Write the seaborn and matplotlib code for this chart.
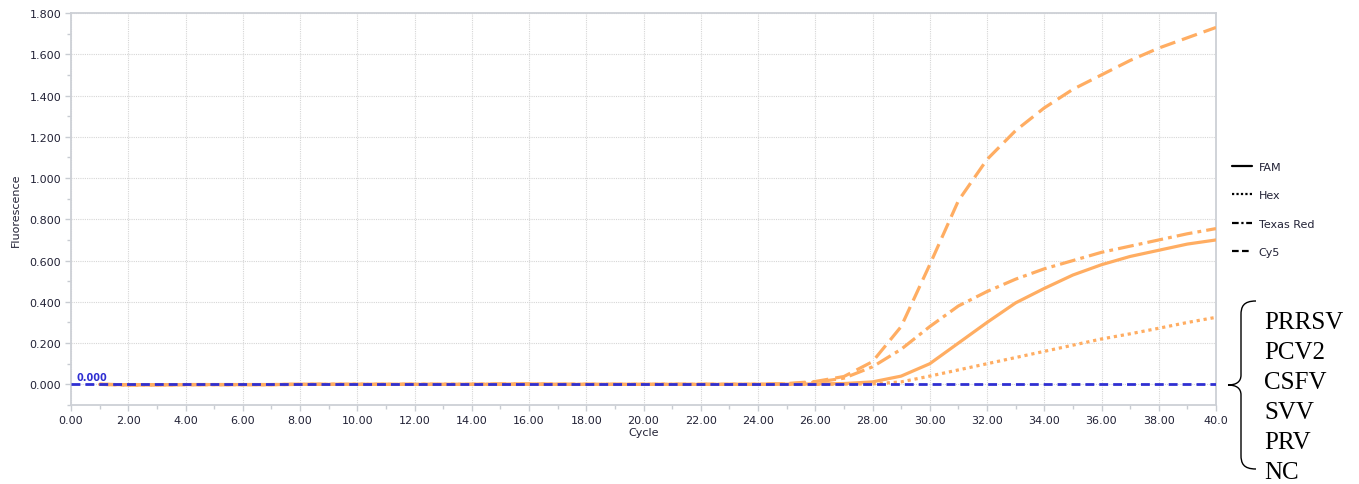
import matplotlib
matplotlib.use("Agg")
import matplotlib.pyplot as plt
from matplotlib.lines import Line2D
from matplotlib.path import Path
from matplotlib.patches import PathPatch
from matplotlib.ticker import MultipleLocator
import seaborn as sns

# Amplification curves (fluorescence per cycle, cycles 1-40)
cycles = list(range(1, 41))
fam = [0.000, -0.002, -0.002, -0.001, -0.001, -0.001, -0.001, 0.000, 0.000, 0.000,
       0.000, 0.000, 0.000, 0.000, 0.001, 0.001, 0.000, 0.000, 0.000, 0.000,
       0.000, 0.000, 0.000, 0.000, 0.001, 0.002, 0.004, 0.012, 0.040, 0.100,
       0.200, 0.300, 0.395, 0.465, 0.530, 0.580, 0.620, 0.650, 0.680, 0.700]
hex_ = [0.000, -0.002, -0.002, -0.001, -0.001, -0.001, -0.001, 0.000, 0.000, 0.000,
        0.000, 0.000, 0.000, 0.000, 0.000, 0.000, 0.000, 0.000, 0.000, 0.000,
        0.000, 0.000, 0.000, 0.000, 0.000, 0.000, 0.001, 0.002, 0.012, 0.040,
        0.070, 0.100, 0.130, 0.160, 0.190, 0.220, 0.245, 0.272, 0.300, 0.325]
texas_red = [0.000, -0.002, -0.002, -0.001, -0.001, -0.001, -0.001, 0.000, 0.000, 0.000,
             0.000, 0.000, 0.000, 0.000, 0.001, 0.001, 0.000, 0.000, 0.000, 0.000,
             0.000, 0.000, 0.000, 0.000, 0.002, 0.010, 0.030, 0.085, 0.170, 0.280,
             0.380, 0.450, 0.510, 0.560, 0.600, 0.640, 0.670, 0.700, 0.730, 0.755]
cy5 = [0.000, -0.002, -0.002, -0.001, -0.001, -0.001, -0.001, 0.000, 0.000, 0.000,
       0.000, 0.000, 0.000, 0.000, 0.001, 0.002, 0.001, 0.000, 0.000, 0.000,
       0.000, 0.000, 0.000, 0.000, 0.004, 0.014, 0.038, 0.110, 0.280, 0.580,
       0.890, 1.090, 1.230, 1.340, 1.430, 1.500, 1.570, 1.630, 1.680, 1.730]

# Threshold line
threshold_x = [0, 40]
threshold_y = [0.0, 0.0]
threshold_label = "0.000"

channels = ["FAM", "Hex", "Texas Red", "Cy5"]
samples = ["PRRSV", "PCV2", "CSFV", "SVV", "PRV", "NC"]

x_ticks = [0, 2, 4, 6, 8, 10, 12, 14, 16, 18, 20, 22, 24, 26, 28, 30, 32, 34, 36, 38, 40]
x_ticklabels = ["0.00", "2.00", "4.00", "6.00", "8.00", "10.00", "12.00", "14.00", "16.00",
                "18.00", "20.00", "22.00", "24.00", "26.00", "28.00", "30.00", "32.00",
                "34.00", "36.00", "38.00", "40.0"]
y_ticks = [0.0, 0.2, 0.4, 0.6, 0.8, 1.0, 1.2, 1.4, 1.6, 1.8]
y_ticklabels = ["0.000", "0.200", "0.400", "0.600", "0.800", "1.000", "1.200",
                "1.400", "1.600", "1.800"]

sns.set_style("white")
plt.rcParams["font.family"] = ["DejaVu Sans"]

W, H = 1359, 485
fig = plt.figure(figsize=(W / 100, H / 100), dpi=100)
ax = fig.add_axes([71 / W, 1 - 406 / H, (1216 - 71) / W, (406 - 14) / H])

orange = "#FFAD62"
blue = "#2F2FD2"
text_col = "#222236"
lw = 2.3

sns.lineplot(x=threshold_x, y=threshold_y, ax=ax, color=blue, lw=2.0,
             linestyle=(0, (3.2, 1.8)), zorder=5)
sns.lineplot(x=cycles, y=fam, ax=ax, color=orange, lw=lw, linestyle="-", zorder=3)
sns.lineplot(x=cycles, y=hex_, ax=ax, color=orange, lw=lw, linestyle=(0, (1.0, 1.2)), zorder=3)
sns.lineplot(x=cycles, y=texas_red, ax=ax, color=orange, lw=lw,
             linestyle=(0, (5, 1.6, 1.2, 1.6)), zorder=3)
sns.lineplot(x=cycles, y=cy5, ax=ax, color=orange, lw=lw, linestyle=(0, (5, 2.2)), zorder=3)

ax.text(0.18, 0.012, threshold_label, color=blue, fontsize=7, fontweight="bold",
        ha="left", va="bottom", zorder=6)

ax.set_xlim(0, 40)
ax.set_ylim(-0.1, 1.8)
ax.set_xticks(x_ticks)
ax.set_xticklabels(x_ticklabels)
ax.set_yticks(y_ticks)
ax.set_yticklabels(y_ticklabels)
ax.xaxis.set_minor_locator(MultipleLocator(1))
ax.yaxis.set_minor_locator(MultipleLocator(0.1))
ax.tick_params(axis="both", which="major", labelsize=8, labelcolor=text_col,
               color="#c8ccd2", length=4, width=1, direction="out", pad=3,
               bottom=True, left=True)
ax.tick_params(axis="both", which="minor", color="#c8ccd2", length=3, width=1,
               direction="out", bottom=True, left=True)

ax.grid(True, which="major", color="#d6d6d6", linestyle=(0, (1, 1)), linewidth=0.8)
ax.set_axisbelow(True)
for sp in ax.spines.values():
    sp.set_color("#cdd0d6")
    sp.set_linewidth(1.3)
    sp.set_visible(True)

ax.set_xlabel("Cycle", fontsize=8, color=text_col, labelpad=2)
ax.set_ylabel("Fluorescence", fontsize=8, color=text_col, labelpad=6)

# Channel legend with black line samples
handles = [
    Line2D([], [], color="black", lw=1.6, linestyle="-"),
    Line2D([], [], color="black", lw=1.6, linestyle=(0, (1, 1))),
    Line2D([], [], color="black", lw=1.6, linestyle=(0, (3, 1.2, 1, 1.2))),
    Line2D([], [], color="black", lw=1.6, linestyle=(0, (3, 1.5))),
]
fig.legend(handles, channels, loc="upper left", bbox_to_anchor=(1222 / W, 1 - 153 / H),
           frameon=False, fontsize=8, handlelength=1.8, handletextpad=0.6,
           labelspacing=1.65, labelcolor=text_col)

# Sample brace and names
def fp(x, y):
    return (x / W, 1 - y / H)

verts = [fp(1256, 302), fp(1243, 302), fp(1241, 308), fp(1241, 316),
         fp(1241, 376),
         fp(1241, 383), fp(1236, 386), fp(1228, 386),
         fp(1236, 386), fp(1241, 389), fp(1241, 396),
         fp(1241, 456),
         fp(1241, 464), fp(1243, 470), fp(1256, 470)]
codes = [Path.MOVETO, Path.CURVE4, Path.CURVE4, Path.CURVE4,
         Path.LINETO,
         Path.CURVE4, Path.CURVE4, Path.CURVE4,
         Path.CURVE4, Path.CURVE4, Path.CURVE4,
         Path.LINETO,
         Path.CURVE4, Path.CURVE4, Path.CURVE4]
fig.patches.append(PathPatch(Path(verts, codes), transform=fig.transFigure,
                             facecolor="none", edgecolor="black", lw=1.0))

for i, name in enumerate(samples):
    fig.text(1264 / W, 1 - (323 + 30 * i) / H, name, fontsize=18,
             family="Liberation Serif", color="black", ha="left", va="center")

fig.savefig("out.png", dpi=100)
